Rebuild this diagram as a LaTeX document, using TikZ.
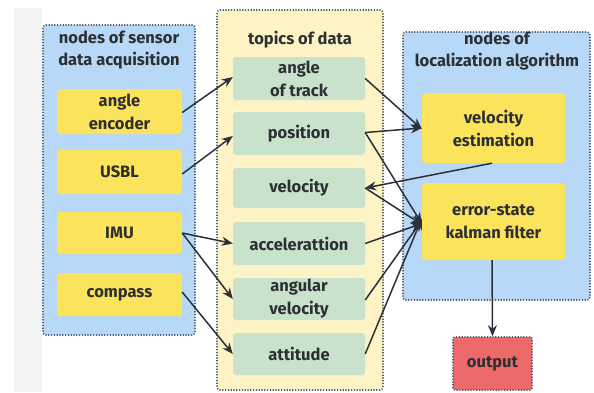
\documentclass[tikz,border=0pt]{standalone}
\usepackage{fontspec}
\setmainfont{Fira Sans}
\usetikzlibrary{arrows.meta}
\definecolor{contblue}{HTML}{B7D8F6}
\definecolor{contyel}{HTML}{FDF3C4}
\definecolor{boxyel}{HTML}{FCE35C}
\definecolor{boxgreen}{HTML}{C9E2CB}
\definecolor{boxred}{HTML}{EE6A6A}
\definecolor{dotc}{HTML}{56606E}
\definecolor{txt}{HTML}{2C3034}
\definecolor{arr}{HTML}{2A313B}
\definecolor{strip}{HTML}{F2F3F5}
\tikzset{
  container/.style={draw=dotc, line width=1.6pt, dash pattern=on 1.2pt off 1.6pt, rounded corners=3pt},
  ybox/.style={fill=boxyel, rounded corners=3pt, align=center, text=txt, font=\bfseries\fontsize{16.5}{23}\selectfont, inner sep=0pt},
  gbox/.style={fill=boxgreen, rounded corners=3pt, align=center, text=txt, font=\bfseries\fontsize{16.5}{23}\selectfont, inner sep=0pt, minimum width=132pt, minimum height=43pt},
  ttl/.style={align=center, text=txt, font=\bfseries\fontsize{16.5}{22}\selectfont, inner sep=0pt},
  conn/.style={draw=arr, line width=1.5pt, -{Stealth[length=11pt,width=9pt]}}
}
\begin{document}
\begin{tikzpicture}[x=1pt,y=-1pt]
\useasboundingbox (0,0) rectangle (594,392);
\fill[white] (0,0) rectangle (594,392);
\fill[strip] (14,8) rectangle (42,392);
% containers
\draw[container, fill=contblue] (43,25) rectangle (195,335);
\draw[container, fill=contyel] (217,10) rectangle (383,390);
\draw[container, fill=contblue] (403,32) rectangle (590,300);
% titles
\node[ttl] (t1) at (119,50) {nodes of sensor\\data acquisition};
\node[ttl] (t2) at (300,40) {topics of data};
\node[ttl] (t3) at (497,51) {nodes of\\localization algorithm};
% left boxes
\node[ybox, minimum width=125pt, minimum height=45pt] (enc) at (119.5,111.5) {angle\\encoder};
\node[ybox, minimum width=125pt, minimum height=44pt] (usbl) at (119.5,172) {USBL};
\node[ybox, minimum width=125pt, minimum height=42pt] (imu) at (119.5,233) {IMU};
\node[ybox, minimum width=125pt, minimum height=43pt] (comp) at (119.5,294.5) {compass};
% middle boxes
\node[gbox] (aot) at (299,78.5) {angle\\of track};
\node[gbox] (pos) at (299,133.5) {position};
\node[gbox, minimum height=40pt] (vel) at (299,188) {velocity};
\node[gbox] (acc) at (299,243.5) {accelerattion};
\node[gbox, minimum height=42pt] (angv) at (299,299) {angular\\velocity};
\node[gbox, minimum height=42pt] (att) at (299,354) {attitude};
% right boxes
\node[ybox, minimum width=143pt, minimum height=70pt] (vest) at (493.5,128) {velocity\\estimation};
\node[ybox, minimum width=143pt, minimum height=77pt] (kal) at (493.5,221.5) {error-state\\kalman filter};
\node[ybox, fill=boxred, draw=dotc, line width=1.6pt, dash pattern=on 1.2pt off 1.6pt, rounded corners=2pt, minimum width=79pt, minimum height=53pt] (out) at (492.5,363.5) {output};
% left -> middle
\draw[conn] ([yshift=-1pt]enc.east) -- ([yshift=1.5pt]aot.west);
\draw[conn] ([yshift=-2pt]usbl.east) -- ([yshift=-2.5pt]pos.west);
\draw[conn] (imu.east) -- (acc.west);
\draw[conn] (imu.east) -- (angv.west);
\draw[conn] ([yshift=2.5pt]comp.east) -- (att.west);
% middle -> right
\draw[conn] (aot.east) -- ([yshift=-1pt]vest.west);
\draw[conn] ([yshift=1pt]pos.east) -- (vest.west);
\draw[conn] ([yshift=1pt]pos.east) -- ([yshift=-2pt]kal.west);
\draw[conn] ([xshift=-1.5pt]vest.south) -- (vel.east);
\draw[conn] (vel.east) -- ([yshift=-3pt]kal.west);
\draw[conn] (acc.east) -- ([yshift=-2pt]kal.west);
\draw[conn] ([yshift=-1pt]angv.east) -- ([yshift=1pt]kal.west);
\draw[conn] (att.east) -- ([yshift=3pt]kal.west);
\draw[conn] ([xshift=-1.5pt]kal.south) -- (out.north);
\end{tikzpicture}
\end{document}
